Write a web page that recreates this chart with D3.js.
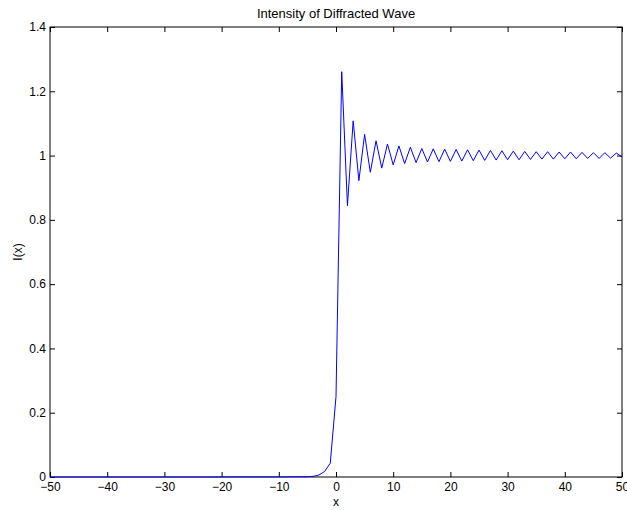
<!DOCTYPE html>
<html>
<head>
<meta charset="utf-8">
<script src="https://cdn.jsdelivr.net/npm/d3@7"></script>
<style>
  body { margin: 0; background: #fff; }
  svg { display: block; font-family: "Liberation Sans", Arial, sans-serif; }
</style>
</head>
<body>
<svg width="627" height="510"></svg>
<script>
// sample points
const xs = d3.range(-50, 51);
const shadow = [
  0, 0, 0, 0, 0, 0, 0, 0, 0, 0,            // -50 .. -41
  0, 0, 0, 0, 0, 0, 0, 0, 0, 0,            // -40 .. -31
  0, 0, 0, 0, 0, 0, 0, 0, 0, 0.0001,       // -30 .. -21
  0.0001, 0.0001, 0.0002, 0.0002, 0.0002, 0.0002, 0.0003, 0.0003, 0.0003, 0.0004, // -20 .. -11
  0.0004, 0.0005, 0.0006, 0.0007, 0.0009, 0.001, 0.002, 0.006, 0.017, 0.043       // -10 .. -1
];
const edge = [0.25];                        // 0
const lit = [
  1.261, 0.844, 1.108, 0.922, 1.066, 0.948, 1.046, 0.961, 1.036, 0.971, // 1 .. 10
  1.030, 0.975, 1.026, 0.978, 1.022, 0.980, 1.021, 0.981, 1.020, 0.982, // 11 .. 20
  1.019, 0.983, 1.018, 0.984, 1.017, 0.985, 1.016, 0.986, 1.015, 0.987, // 21 .. 30
  1.014, 0.987, 1.013, 0.988, 1.012, 0.989, 1.012, 0.989, 1.011, 0.990, // 31 .. 40
  1.011, 0.990, 1.010, 0.991, 1.009, 0.991, 1.009, 0.992, 1.008, 0.996  // 41 .. 50
];
const intensity = shadow.concat(edge, lit);

const xTicks = [-50, -40, -30, -20, -10, 0, 10, 20, 30, 40, 50];
const yTicks = [0, 0.2, 0.4, 0.6, 0.8, 1, 1.2, 1.4];

const svg = d3.select('svg');
const m = { left: 50, right: 5, top: 27, bottom: 33 };
const W = 627, H = 510;

const x = d3.scaleLinear().domain([-50, 50]).range([m.left, W - m.right]);
const y = d3.scaleLinear().domain([0, 1.4]).range([H - m.bottom, m.top]);

function styleAxis(g) {
  g.select('.domain').remove();
  g.selectAll('line').attr('stroke', '#000');
  g.selectAll('text').attr('fill', '#000').attr('font-size', 12);
}

svg.append('g')
  .attr('transform', `translate(0,${y(0)})`)
  .call(d3.axisBottom(x).tickValues(xTicks).tickSizeInner(-5).tickSizeOuter(0).tickPadding(5))
  .call(styleAxis);

svg.append('g')
  .attr('transform', `translate(0,${y(1.4)})`)
  .call(d3.axisTop(x).tickValues(xTicks).tickFormat('').tickSizeInner(-5).tickSizeOuter(0))
  .call(styleAxis);

svg.append('g')
  .attr('transform', `translate(${x(-50)},0)`)
  .call(d3.axisLeft(y).tickValues(yTicks).tickFormat(d3.format('')).tickSizeInner(-5).tickSizeOuter(0).tickPadding(4))
  .call(styleAxis);

svg.append('g')
  .attr('transform', `translate(${x(50)},0)`)
  .call(d3.axisRight(y).tickValues(yTicks).tickFormat('').tickSizeInner(-5).tickSizeOuter(0))
  .call(styleAxis);

// box
svg.append('rect')
  .attr('x', x(-50)).attr('y', y(1.4))
  .attr('width', x(50) - x(-50)).attr('height', y(0) - y(1.4))
  .attr('fill', 'none').attr('stroke', '#000').attr('stroke-width', 1);

// the curve
const line = d3.line()
  .x((d, i) => x(xs[i]))
  .y(d => y(d));

svg.append('path')
  .datum(intensity)
  .attr('d', line)
  .attr('fill', 'none')
  .attr('stroke', '#0000ff')
  .attr('stroke-width', 1);

// labels
svg.append('text')
  .attr('x', (x(-50) + x(50)) / 2).attr('y', 18)
  .attr('text-anchor', 'middle').attr('font-size', 13)
  .text('Intensity of Diffracted Wave');

svg.append('text')
  .attr('x', (x(-50) + x(50)) / 2).attr('y', 506)
  .attr('text-anchor', 'middle').attr('font-size', 12)
  .text('x');

svg.append('text')
  .attr('transform', `translate(22,${(y(0) + y(1.4)) / 2}) rotate(-90)`)
  .attr('text-anchor', 'middle').attr('font-size', 12)
  .text('I(x)');
</script>
</body>
</html>
